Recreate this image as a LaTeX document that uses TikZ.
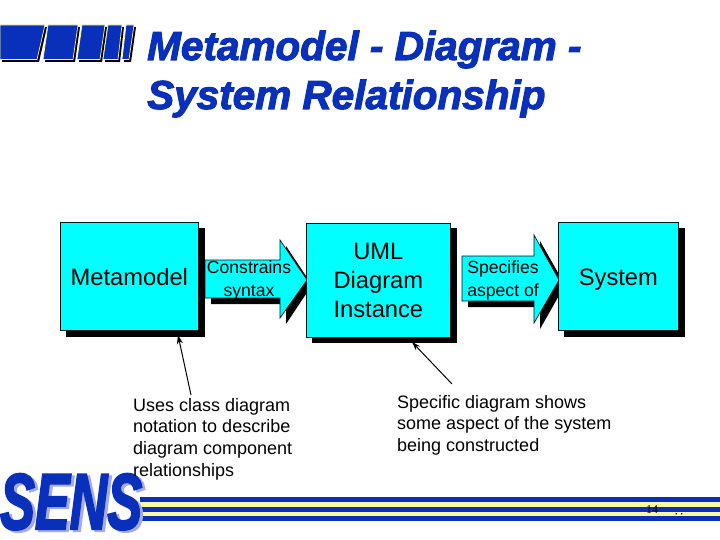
\documentclass[tikz,border=0pt]{standalone}
\usepackage{fontspec}
\setmainfont{Liberation Sans}
\newfontfamily\titlef[BoldItalicFeatures={FakeBold=2.6}]{Liberation Sans}
\newfontfamily\sensf[BoldItalicFeatures={FakeBold=3}]{Liberation Sans}
\newfontfamily\numf{Liberation Serif}
\definecolor{sblue}{RGB}{8,48,186}
\definecolor{sshade}{RGB}{165,170,235}
\definecolor{syellow}{RGB}{250,250,165}
\definecolor{scyan}{RGB}{0,255,255}
\usetikzlibrary{arrows.meta}
\tikzset{
  boxface/.style={fill=scyan,draw=black!80!teal,line width=0.7pt},
  boxshadow/.style={fill=black,draw=none},
  tick/.style={fill=sblue,draw=syellow,line width=0.7pt},
  tickshadow/.style={fill=black,draw=none},
  stripeblue/.style={fill=sblue,draw=none},
  stripeyellow/.style={fill=syellow,draw=none},
  titletext/.style={text=sblue,anchor=base west,inner sep=0pt,font=\titlef\bfseries\itshape\fontsize{40.5}{44}\selectfont},
  big/.style={inner sep=0pt,font=\fontsize{23.7}{29}\selectfont,align=center},
  mid/.style={inner sep=0pt,font=\fontsize{17.6}{23}\selectfont,align=center},
  note/.style={inner sep=0pt,anchor=north west,align=left,font=\fontsize{18}{21.7}\selectfont},
  pointer/.style={draw=black,line width=1pt,-{Stealth[length=9pt,width=6pt]}},
  sens/.style={inner sep=0pt,anchor=base west,xscale=0.66,font=\sensf\bfseries\itshape\fontsize{79}{79}\selectfont}
}
\begin{document}
\begin{tikzpicture}[x=1pt,y=-1pt]
\useasboundingbox (0,0) rectangle (720,540);
% header logo
\foreach \a/\b/\c/\d in {0/45/37/0, 48/78/73/43, 82/105/100/77, 108/122/118/103, 126/134/129/122}{
  \fill[tickshadow] ({\a+2},27) -- ({\b+2},27) -- ({\c+2},62) -- ({\d+2},62) -- cycle;
  \draw[tick] (\a,25) -- (\b,25) -- (\c,59.5) -- (\d,59.5) -- cycle;
}
% title
\node[titletext] (title1) at (147,60) {Metamodel - Diagram -};
\node[titletext] (title2) at (147,109) {System Relationship};
% footer stripes
\fill[stripeblue] (140,497) rectangle (720,502);
\fill[stripeyellow] (140,502) rectangle (720,507);
\fill[stripeblue] (140,507) rectangle (720,512);
\fill[stripeyellow] (140,512) rectangle (720,516);
\fill[stripeblue] (140,516) rectangle (720,521);
% SENS logo
\node[sens,text=sshade] (sensshade) at (3,531) {SENS};
\node[sens,text=sblue] (senslogo) at (0,529) {SENS};
% page number
\node[inner sep=0pt,font=\numf\fontsize{12}{12}\selectfont] (pagenum) at (652,510) {14};
\fill[black] (675.5,513.2) rectangle (676.8,514.4) (681,513.2) rectangle (682.3,514.4);
% arrow 1
\fill[boxshadow] (211,266) -- (286,266) -- (286,246) -- (312,285) -- (286,324) -- (286,304) -- (211,304) -- cycle;
\draw[boxface] (205,260) -- (280,260) -- (280,240) -- (307,280) -- (280,318) -- (280,298) -- (205,298) -- cycle;
% arrow 2
\fill[boxshadow] (468,262) -- (540,262) -- (540,241) -- (565,285) -- (540,329) -- (540,307) -- (468,307) -- cycle;
\draw[boxface] (462,256) -- (534,256) -- (534,235) -- (559,280) -- (534,323) -- (534,301) -- (462,301) -- cycle;
% boxes
\fill[boxshadow] (66,228) rectangle (205,337);
\node[boxface,minimum width=138pt,minimum height=108pt,inner sep=0pt,anchor=north west,big] (meta) at (60,222) {\raisebox{-1pt}[\height][\depth]{Metamodel}};
\fill[boxshadow] (312,228) rectangle (457,343);
\node[boxface,minimum width=144pt,minimum height=114pt,inner sep=0pt,anchor=north west,big] (uml) at (306,223) {UML\\Diagram\\Instance};
\fill[boxshadow] (564,228) rectangle (685,337);
\node[boxface,minimum width=120pt,minimum height=108pt,inner sep=0pt,anchor=north west,big] (sys) at (558,222) {\raisebox{-3pt}[\height][\depth]{System}};
% arrow labels
\node[mid] (lab1) at (249,280.5) {Constrains\\syntax};
\node[mid] (lab2) at (503,280) {Specifies\\aspect of};
% notes
\node[note] (note1) at (133,398) {Uses class diagram\\notation to describe\\diagram component\\relationships};
\node[note] (note2) at (397,395) {Specific diagram shows\\some aspect of the system\\being constructed};
% pointers
\coordinate (p1) at (191,395);
\coordinate (p2) at (452,384);
\coordinate (t1) at (178,335);
\coordinate (t2) at (412,342);
\draw[pointer] (p1) -- (t1);
\draw[pointer] (p2) -- (t2);
\end{tikzpicture}
\end{document}
